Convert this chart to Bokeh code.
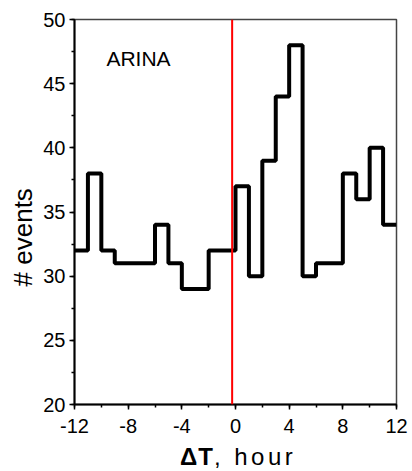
from bokeh.plotting import figure
from bokeh.models import SingleIntervalTicker, Label, Span, Div, CustomJSTickFormatter
from bokeh.layouts import column
from bokeh.embed import file_html
from bokeh.resources import INLINE

# Histogram of events vs time offset (1-hour bins)
bin_edges = list(range(-12, 13))
counts = [32, 38, 32, 31, 31, 31, 34, 31, 29, 29, 32, 32,
          37, 30, 39, 44, 48, 30, 31, 31, 38, 36, 40, 34]
marker_x = -0.25
panel_label = "ARINA"
x_label_bold = "ΔT"
x_label_rest = ", hour"
y_label = "# events"

FONT = "Liberation Sans"

p = figure(width=412, height=440, output_backend="svg", toolbar_location=None,
           x_range=(-12, 12), y_range=(20, 50),
           min_border_left=74, min_border_right=16, min_border_top=19, min_border_bottom=36)
p.background_fill_color = "white"
p.border_fill_color = "white"
p.outline_line_color = "#444444"
p.outline_line_width = 1.5
p.xgrid.visible = False
p.ygrid.visible = False

p.xaxis.ticker = SingleIntervalTicker(interval=4, num_minor_ticks=2)
p.yaxis.ticker = SingleIntervalTicker(interval=5, num_minor_ticks=2)
p.xaxis.formatter = CustomJSTickFormatter(code="return String(tick);")
for ax in (p.xaxis, p.yaxis):
    ax.axis_line_color = "black"
    ax.axis_line_width = 2
    ax.major_tick_line_color = "black"
    ax.major_tick_line_width = 1.5
    ax.minor_tick_line_color = "black"
    ax.minor_tick_line_width = 1.5
    ax.major_tick_out = 5
    ax.major_tick_in = 0
    ax.minor_tick_out = 3
    ax.minor_tick_in = 0
    ax.major_label_text_font = FONT
    ax.major_label_text_font_size = "20px"
    ax.major_label_text_color = "black"
p.xaxis.major_label_standoff = 9
p.yaxis.major_label_standoff = 4

# y axis title (trailing no-break spaces shift it down as in the reference)
p.yaxis.axis_label = y_label + "\u00a0" * 7
p.yaxis.axis_label_text_font = FONT
p.yaxis.axis_label_text_font_size = "26px"
p.yaxis.axis_label_text_font_style = "normal"
p.yaxis.axis_label_text_color = "black"
p.yaxis.axis_label_standoff = 2

# histogram as steps
xs = bin_edges
ys = counts + [counts[-1]]
p.step(xs, ys, mode="after", line_color="black", line_width=4)

# red marker line
p.add_layout(Span(location=marker_x, dimension="height", line_color="red", line_width=2))

p.add_layout(Label(x=-9.62, y=46.97, text=panel_label, text_font=FONT,
                   text_font_size="21px", text_color="black", text_baseline="alphabetic"))

xlab = Div(
    text=(
        '<div style="padding-top:3px;padding-left:180px;text-align:left;'
        'font-family:\'Liberation Sans\';font-size:24px;'
        'color:black;line-height:normal;white-space:nowrap">'
        f'<b style="letter-spacing:1px">{x_label_bold}</b>'
        f'<span style="letter-spacing:3.5px">{x_label_rest}</span></div>'
    ),
    width=412, height=31, margin=0,
)

layout = column(p, xlab, spacing=0)

open("out.html", "w").write(file_html(layout, INLINE))
